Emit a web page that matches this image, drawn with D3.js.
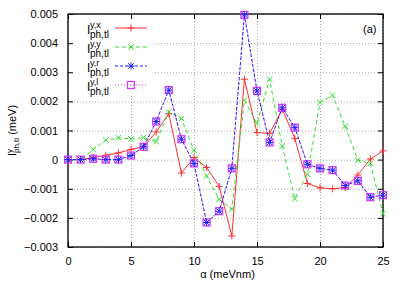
<html>
<head>
  <script src="https://d3js.org/d3.v7.min.js"></script>
  <style>
    body { margin: 0; background: #fff; }
    text { font-family: "Liberation Sans", Arial, sans-serif; }
    .grid line { stroke: #aaa; stroke-dasharray: 1, 2; }
    .grid .domain { display: none; }
  </style>
</head>
<body>
  <svg id="chart" width="403" height="283"></svg>
  <script>
    // alpha values (meVnm)
    const alpha = [0, 1, 2, 3, 4, 5, 6, 7, 8, 9, 10, 11, 12, 13, 14, 15, 16, 17, 18, 19, 20, 21, 22, 23, 24, 25];

    const yx = [0, 0, 0.00007, 0.00015, 0.00023, 0.00035, 0.00044, 0.00095, 0.00158, -0.00046,
      0.00007, -0.00027, -0.00092, -0.00262, 0.00276, 0.00093, 0.0009, 0.00173, 0.00073, -0.00082,
      -0.00097, -0.001, -0.00096, -0.00053, 0.00002, 0.0003];

    const yy = [0, 0, 0.00035, 0.00067, 0.00075, 0.00071, 0.00076, 0.00062, 0.00163, 0.00141,
      0.00032, -0.00056, -0.00136, -0.0017, 0.00204, 0.00124, 0.00276, 0.00047, -0.00134, -0.0005,
      0.00196, 0.00221, 0.00115, -0.00002, -0.00013, -0.00185];

    const yr = [0, 0, 0.00003, 0, 0, 0.00014, 0.00044, 0.00131, 0.00239, 0.0007,
      -0.00013, -0.00216, -0.00177, -0.0003, 0.00497, 0.00236, 0.00059, 0.00178, 0.0011, -0.00016,
      -0.0003, -0.00036, -0.00089, -0.00073, -0.00129, -0.00122];

    const yl = [0, 0, 0.00003, 0, 0, 0.00014, 0.00044, 0.00131, 0.00239, 0.0007,
      -0.00013, -0.00216, -0.00177, -0.0003, 0.00497, 0.00236, 0.00059, 0.00178, 0.0011, -0.00016,
      -0.0003, -0.00036, -0.00089, -0.00073, -0.00129, -0.00122];

    const xTicks = [0, 5, 10, 15, 20, 25];
    const yTicks = [-0.003, -0.002, -0.001, 0, 0.001, 0.002, 0.003, 0.004, 0.005];

    const svg = d3.select('svg#chart');
    const margins = { top: 14, right: 20, bottom: 36, left: 68 };
    const chartWidth = 403 - margins.left - margins.right;
    const chartHeight = 283 - margins.top - margins.bottom;

    const xScale = d3.scaleLinear().domain([0, 25]).range([0, chartWidth]);
    const yScale = d3.scaleLinear().domain([-0.003, 0.005]).range([chartHeight, 0]);

    const g = svg.append('g').attr('transform', `translate(${margins.left},${margins.top})`);

    // gridlines
    g.append('g').attr('class', 'grid')
      .call(d3.axisLeft(yScale).tickValues(yTicks).tickSize(-chartWidth).tickFormat(''));
    g.append('g').attr('class', 'grid')
      .attr('transform', `translate(0,${chartHeight})`)
      .call(d3.axisBottom(xScale).tickValues(xTicks).tickSize(-chartHeight).tickFormat(''));

    // legend background hides the grid behind it
    g.append('rect').attr('x', 1).attr('y', 1).attr('width', 84).attr('height', 81).attr('fill', '#fff');

    // axes with inward ticks and mirrors
    const fmt = d => d === 0 ? '0' : d3.format('.3f')(d);
    const leftAxis = g.append('g').call(d3.axisLeft(yScale).tickValues(yTicks).tickSize(-5).tickPadding(10).tickFormat(fmt));
    const rightAxis = g.append('g').attr('transform', `translate(${chartWidth},0)`)
      .call(d3.axisRight(yScale).tickValues(yTicks).tickSize(-5).tickFormat(''));
    const bottomAxis = g.append('g').attr('transform', `translate(0,${chartHeight})`)
      .call(d3.axisBottom(xScale).tickValues(xTicks).tickSize(-5).tickPadding(10));
    const topAxis = g.append('g').call(d3.axisTop(xScale).tickValues(xTicks).tickSize(-5).tickFormat(''));
    [leftAxis, rightAxis, bottomAxis, topAxis].forEach(a => {
      a.select('.domain').remove();
      a.selectAll('line').attr('stroke', '#000');
      a.selectAll('text').style('font-size', '11px').attr('fill', '#000');
    });
    g.append('rect').attr('width', chartWidth).attr('height', chartHeight)
      .attr('fill', 'none').attr('stroke', '#000').attr('stroke-width', 1.3);

    const series = [
      { name: 'y,x', values: yx, color: '#ff3030', dash: null, marker: 'plus' },
      { name: 'y,y', values: yy, color: '#33dd33', dash: '4,3', marker: 'cross' },
      { name: 'y,r', values: yr, color: '#2222ff', dash: '3,2', marker: 'star' },
      { name: 'y,l', values: yl, color: '#dd33ff', dash: '1,2', marker: 'square' }
    ];

    const line = d3.line().x((d, i) => xScale(alpha[i])).y(d => yScale(d));

    function marker(sel, type, color) {
      const s = 3.5;
      if (type === 'plus' || type === 'star') {
        sel.append('path').attr('d', `M${-s},0H${s}M0,${-s}V${s}`).attr('stroke', color).attr('fill', 'none');
      }
      if (type === 'cross' || type === 'star') {
        const c = s * 0.8;
        sel.append('path').attr('d', `M${-c},${-c}L${c},${c}M${-c},${c}L${c},${-c}`).attr('stroke', color).attr('fill', 'none');
      }
      if (type === 'square') {
        sel.append('rect').attr('x', -3.5).attr('y', -3.5).attr('width', 7).attr('height', 7)
          .attr('stroke', color).attr('fill', 'none').attr('stroke-width', 1.2);
      }
    }

    // draw magenta first so blue stars sit on top, like gnuplot's layering
    [series[0], series[1], series[3], series[2]].forEach(s => {
      g.append('path').datum(s.values).attr('d', line)
        .attr('fill', 'none').attr('stroke', s.color).attr('stroke-width', 1)
        .attr('stroke-dasharray', s.dash);
      s.values.forEach((v, i) => {
        const m = g.append('g').attr('transform', `translate(${xScale(alpha[i])},${yScale(v)})`);
        marker(m, s.marker, s.color);
      });
    });

    // legend
    series.forEach((s, i) => {
      const ly = 14 + i * 19;
      const lg = g.append('g').attr('transform', `translate(0,${ly})`);
      lg.append('text').attr('x', 19).attr('y', 6).text('I').style('font-size', '12px');
      lg.append('text').attr('x', 22).attr('y', 0).text(s.name).style('font-size', '9px');
      lg.append('text').attr('x', 22).attr('y', 10).text('ph,tl').style('font-size', '10px');
      lg.append('line').attr('x1', 47).attr('x2', 79).attr('y1', 0).attr('y2', 0)
        .attr('stroke', s.color).attr('stroke-dasharray', s.dash);
      const m = lg.append('g').attr('transform', 'translate(63,0)');
      marker(m, s.marker, s.color);
    });

    g.append('text').attr('x', 295).attr('y', 19).text('(a)').style('font-size', '11px');

    // axis labels
    svg.append('text').attr('x', margins.left + chartWidth / 2 + 2).attr('y', 278)
      .attr('text-anchor', 'middle').style('font-size', '11px').text('α (meVnm)');

    const yLabel = svg.append('text').attr('transform', `translate(16,${margins.top + chartHeight / 2}) rotate(-90)`)
      .attr('text-anchor', 'middle').style('font-size', '11px');
    yLabel.append('tspan').text('I');
    yLabel.append('tspan').attr('dy', -4).style('font-size', '8px').text('y');
    yLabel.append('tspan').attr('dx', -4).attr('dy', 7).style('font-size', '8px').text('ph,tl');
    yLabel.append('tspan').attr('dy', -3).text(' (meV)');
  </script>
</body>
</html>
